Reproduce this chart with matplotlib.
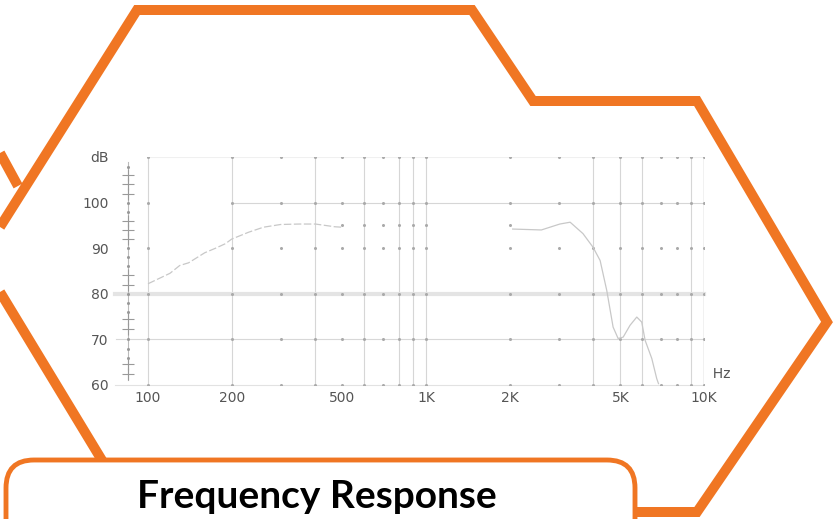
import numpy as np
import matplotlib
matplotlib.use("Agg")
import matplotlib.pyplot as plt
from matplotlib.patches import FancyBboxPatch

# frequency response
low_f = [100, 120, 130, 140, 160, 175, 190, 200, 230, 260, 300, 350, 400, 470, 500]
low_db = [82.2, 84.5, 86.2, 86.8, 89.0, 90.0, 91.0, 92.0, 93.5, 94.6, 95.2, 95.3, 95.3, 94.7, 94.6]
high_f = [2050, 2600, 3030, 3300, 3670, 3990, 4230, 4470, 4710, 4910, 5120, 5420,
          5730, 5970, 6140, 6490, 6760, 6860]
high_db = [94.2, 94.0, 95.3, 95.7, 93.2, 90.2, 87.3, 80.7, 72.7, 70.2, 70.5, 73.1,
           74.9, 73.8, 69.8, 65.8, 61.4, 60.3]
mid_f = [500, 600, 700, 800, 900, 1000, 2000]
mid_db = [95, 95, 95, 95, 95, 95, 95]

xtick_vals = [100, 200, 500, 1000, 2000, 5000, 10000]
xtick_labels = ['100', '200', '500', '1K', '2K', '5K', '10K']
ytick_vals = [60, 70, 80, 90, 100, 110]
ytick_labels = ['60', '70', '80', '90', '100', 'dB']
vlines = [100, 200, 400, 600, 800, 900, 1000, 4000, 5000, 6000, 9000, 10000]
dot_f = list(range(100, 1000, 100)) + list(range(1000, 10001, 1000))
dot_db = [60, 70, 80, 90, 100, 110]
ruler_cross = [62.5, 64.5, 72.2, 74.4, 82, 84.2, 92, 94, 96, 101.8, 104, 106]
ruler_dot = [66, 68, 70, 76, 78, 80, 86, 88, 90, 98, 100, 107.7]

orange = '#F07623'
W, H = 833, 519
fig = plt.figure(figsize=(W / 100, H / 100), dpi=100)

# chart axes
xmin = 10 ** (2 - 20 / 278.0)
ax = fig.add_axes([128 / W, 1 - 385 / H, 576 / W, 228 / H])
ax.set_xscale('log')
ax.set_xlim(xmin, 10000)
ax.set_ylim(60, 110)
for s in ax.spines.values():
    s.set_visible(False)
ax.minorticks_off()

# grid
for f in vlines:
    c = '#b8b8b8' if f == 10000 else '#d6d6d6'
    ax.plot([f, f], [60, 110], color=c, lw=1.0 if f == 10000 else 0.8, zorder=1)
ax.plot([100, 10000], [110, 110], color='#f0f0f0', lw=0.8, zorder=1)
ax.plot([200, 10000], [100, 100], color='#d6d6d6', lw=0.8, zorder=1)
ax.plot([76, 10000], [80, 80], color='#e4e4e4', lw=3.0, zorder=1, clip_on=False)
ax.plot([77, 10000], [70, 70], color='#d8d8d8', lw=0.8, zorder=1, clip_on=False)
ax.plot([76, 10000], [60, 60], color='#e2e2e2', lw=0.8, zorder=1, clip_on=False)
fx, fy = np.meshgrid(dot_f, dot_db)
ax.plot(fx.ravel(), fy.ravel(), 'o', color='#aaaaaa', ms=2.2, mec='none', zorder=2)
ax.plot(mid_f, mid_db, 'o', color='#aaaaaa', ms=2.2, mec='none', zorder=2)

# y ruler
ax.plot([xmin, xmin], [61, 109], color='#bbbbbb', lw=0.8, zorder=2, clip_on=False)
ax.plot([xmin] * len(ruler_cross), ruler_cross, '+', color='#999999', ms=9, mew=0.8,
        zorder=3, clip_on=False)
ax.plot([xmin] * len(ruler_dot), ruler_dot, 'o', color='#999999', ms=2.2, mec='none',
        zorder=3, clip_on=False)

# response curve
ax.plot(low_f, low_db, color='#c8c8c8', lw=0.9, ls=(0, (6, 2)), zorder=4)
ax.plot(high_f, high_db, color='#c8c8c8', lw=0.9, zorder=4)

ax.set_xticks(xtick_vals)
ax.set_xticklabels(xtick_labels)
ax.set_yticks(ytick_vals)
ax.set_yticklabels(ytick_labels)
ax.tick_params(axis='both', length=0, labelsize=10, labelcolor='#555555',
               labelfontfamily='DejaVu Sans')
ax.tick_params(axis='y', pad=14)
ax.tick_params(axis='x', pad=4)
ax.text(10000, 62.4, '  Hz', fontsize=10, color='#555555', va='center', ha='left')

# decorative frame
ov = fig.add_axes([0, 0, 1, 1], zorder=5)
ov.set_xlim(0, W)
ov.set_ylim(H, 0)
ov.axis('off')
ov.patch.set_alpha(0)
hexagon = [(0, 227), (137, 10), (472, 10), (533, 101), (697, 101), (827, 322),
           (697, 512), (630, 512)]
hx, hy = zip(*hexagon)
ov.plot(hx, hy, color=orange, lw=7.2, solid_joinstyle='miter', solid_capstyle='butt')
ov.plot([0, 18], [153, 186], color=orange, lw=7.2, solid_capstyle='butt')
ov.plot([0, 103], [292, 462], color=orange, lw=7.2, solid_capstyle='butt')
box = FancyBboxPatch((6, 460), 629, 120, boxstyle='round,pad=0,rounding_size=28',
                     fc='white', ec=orange, lw=3.5, zorder=6)
ov.add_patch(box)
ov.text(317, 497, 'Frequency Response', fontsize=28, fontweight='bold',
        family='Lato', ha='center', va='center', color='black', zorder=7)

fig.savefig('out.png', dpi=100)
